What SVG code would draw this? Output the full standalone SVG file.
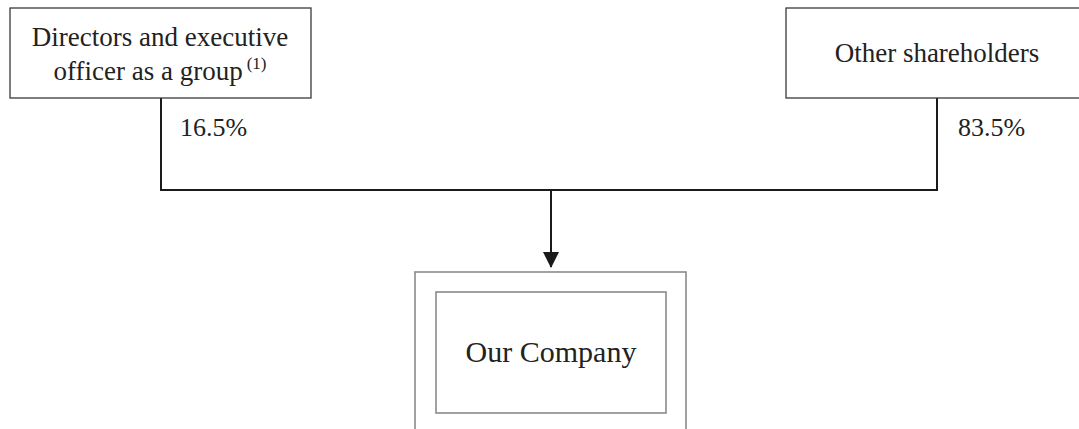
<svg xmlns="http://www.w3.org/2000/svg" width="1079" height="429" viewBox="0 0 1079 429">
<style>
.box{fill:#fff;stroke:#3a3a3a;stroke-width:1.3}
.gbox{fill:none;stroke:#8a8a8a;stroke-width:1.6}
.t{font-family:"Liberation Serif","Times New Roman",serif;fill:#222;text-anchor:middle}
.conn{fill:none;stroke:#1a1a1a;stroke-width:2}
</style>
<defs>
<marker id="arr" markerWidth="16" markerHeight="18" refX="15" refY="8" orient="auto" markerUnits="userSpaceOnUse" viewBox="0 0 16 16">
<path d="M0,0 L16,8 L0,16 Z" fill="#1a1a1a"/>
</marker>
</defs>
<g id="connectors">
<polyline class="conn" points="161,98 161,190 937,190 937,98"/>
<line class="conn" x1="551" y1="190" x2="551" y2="267" marker-end="url(#arr)"/>
<text class="t" x="180" y="136" font-size="26" style="text-anchor:start">16.5%</text>
<text class="t" x="958" y="136" font-size="26" style="text-anchor:start">83.5%</text>
</g>
<g id="directors">
<rect class="box" x="10" y="8" width="301" height="90"/>
<text class="t" x="160" y="46" font-size="27">Directors and executive</text>
<text class="t" x="160" y="80" font-size="27">officer as a group<tspan font-size="17" dx="4" dy="-11">(1)</tspan></text>
</g>
<g id="other">
<rect class="box" x="786" y="8" width="310" height="90"/>
<text class="t" x="937" y="62" font-size="27">Other shareholders</text>
</g>
<g id="company">
<rect class="gbox" x="415" y="272" width="271" height="170"/>
<rect class="gbox" x="436" y="292" width="230" height="121"/>
<text class="t" x="551" y="362" font-size="30">Our Company</text>
</g>
</svg>
